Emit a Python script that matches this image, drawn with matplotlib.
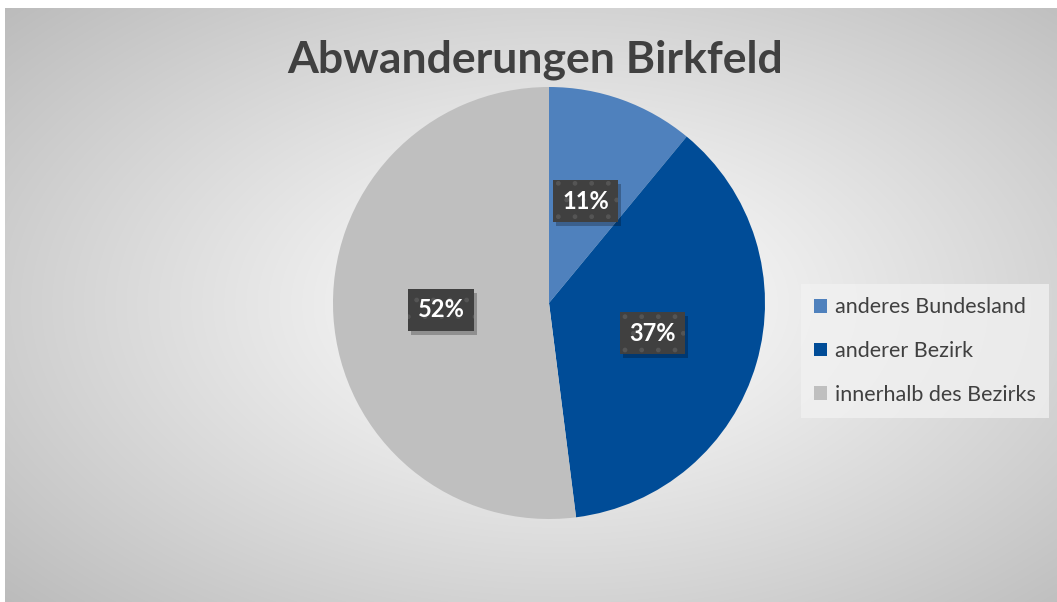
import numpy as np
import matplotlib.pyplot as plt
from matplotlib.patches import Patch, Rectangle
from matplotlib.transforms import IdentityTransform

plt.rcParams["font.family"] = ["Lato", "DejaVu Sans"]

# Daten
kategorien = ["anderes Bundesland", "anderer Bezirk", "innerhalb des Bezirks"]
anteile = [11, 37, 52]
farben = ["#4F81BD", "#004C97", "#BFBFBF"]
titel = "Abwanderungen Birkfeld"

W, H = 1057, 602
fig = plt.figure(figsize=(W / 100, H / 100), dpi=100)
fig.patch.set_facecolor("white")

# Hintergrund mit radialem Verlauf
bg = fig.add_axes([5 / W, 0, 1 - 5 / W, 1 - 8 / H])
yy, xx = np.mgrid[0:H, 0:W]
r = np.sqrt(((xx - 560) / 560) ** 2 + ((yy - 300) / 330) ** 2)
grau = 1 - 0.19 * np.clip(r, 0, 1.6) ** 1.1
bg.imshow(np.dstack([grau, grau, grau]), aspect="auto", extent=[0, 1, 0, 1])
bg.set_axis_off()

# Kreisdiagramm
cx, cy, rad = 549, 303, 216
ax = fig.add_axes([(cx - rad) / W, (H - cy - rad) / H, 2 * rad / W, 2 * rad / H])
wedges, _ = ax.pie(anteile, colors=farben, startangle=90, counterclock=False,
                   radius=1, wedgeprops=dict(linewidth=0))
ax.set_xlim(-1, 1)
ax.set_ylim(-1, 1)
ax.set_aspect("equal")
ax.set_axis_off()

# Beschriftungen mit dunklen Kästen
texte = []
for w, wert in zip(wedges, anteile):
    mitte = np.deg2rad((w.theta1 + w.theta2) / 2)
    x, y = 0.5 * np.cos(mitte), 0.5 * np.sin(mitte)
    t = ax.text(x, y, f"{wert}%", ha="center", va="center", fontsize=17,
                fontweight="bold", color="white", zorder=5,
                bbox=dict(boxstyle="square,pad=0.4", fc="#404040", ec="#555555",
                          lw=0, hatch="."))
    texte.append(t)

# Schatten hinter den Kästen
fig.canvas.draw()
for t in texte:
    bb = t.get_bbox_patch().get_window_extent()
    ax.add_patch(Rectangle((bb.x0 + 3, bb.y0 - 4), bb.width, bb.height,
                           transform=IdentityTransform(), fc="black", ec="none",
                           alpha=0.25, zorder=4, clip_on=False))

fig.text(535 / W, 1 - 60 / H, titel, ha="center", va="center", fontsize=32,
         fontweight="bold", color="#404040")

handles = [Patch(facecolor=f, edgecolor="none") for f in farben]
leg = fig.legend(handles, kategorien, loc="center left",
                 bbox_to_anchor=(790 / W, 1 - 351 / H), fontsize=15.5,
                 frameon=True, fancybox=False, labelspacing=1.1,
                 handlelength=0.6, handleheight=0.6, handletextpad=0.4,
                 borderpad=0.6, labelcolor="#404040")
leg.get_frame().set_facecolor("#F2F2F2")
leg.get_frame().set_alpha(0.75)
leg.get_frame().set_linewidth(0)

fig.savefig("out.png", dpi=100)
